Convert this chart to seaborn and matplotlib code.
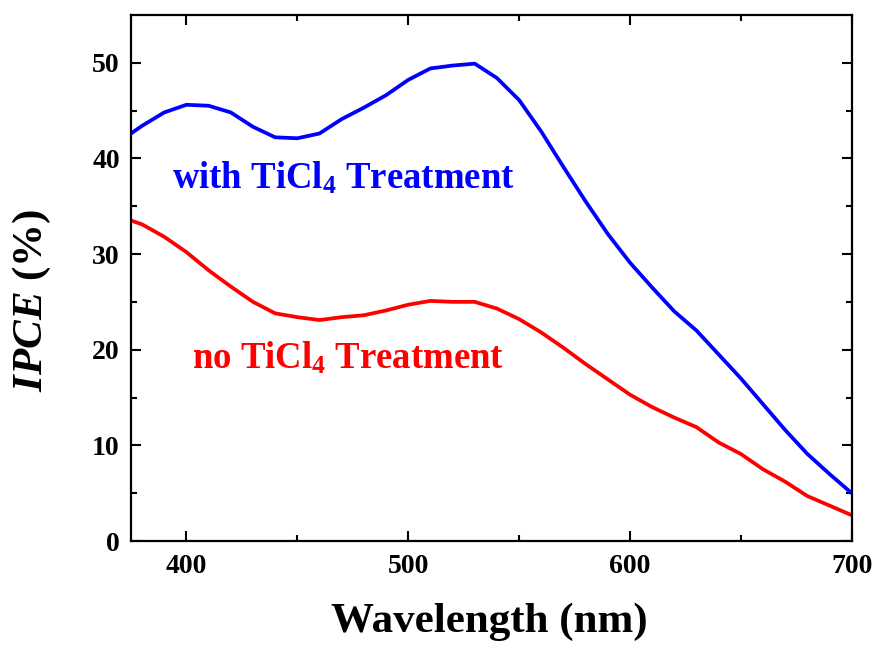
import numpy as np
import pandas as pd
import matplotlib
matplotlib.use("Agg")
import matplotlib.pyplot as plt
import seaborn as sns

# IPCE spectra (%), sampled every 10 nm
wavelength = [375, 380, 390, 400, 410, 420, 430, 440, 450, 460, 470, 480, 490,
              500, 510, 520, 530, 540, 550, 560, 570, 580, 590, 600, 610, 620,
              630, 640, 650, 660, 670, 680, 690, 700]
ipce_with = [42.6, 43.4, 44.8, 45.6, 45.5, 44.8, 43.3, 42.2, 42.1, 42.6, 44.1,
             45.3, 46.6, 48.2, 49.4, 49.7, 49.9, 48.4, 46.1, 42.8, 39.1, 35.5,
             32.1, 29.1, 26.5, 24.0, 22.0, 19.5, 17.0, 14.3, 11.6, 9.1, 7.0, 5.0]
ipce_without = [33.5, 33.1, 31.8, 30.2, 28.3, 26.6, 25.0, 23.8, 23.4, 23.1,
                23.4, 23.6, 24.1, 24.7, 25.1, 25.0, 25.0, 24.3, 23.2, 21.8,
                20.2, 18.5, 16.9, 15.3, 14.0, 12.9, 11.9, 10.3, 9.1, 7.5,
                6.2, 4.7, 3.7, 2.7]
series_names = ["with TiCl$_4$ Treatment", "no TiCl$_4$ Treatment"]
series_colors = ["#0000ff", "#ff0000"]

df = pd.DataFrame({
    "Wavelength": wavelength * 2,
    "IPCE": ipce_with + ipce_without,
    "Sample": [series_names[0]] * len(wavelength) + [series_names[1]] * len(wavelength),
})

sns.set_theme(style="ticks")
plt.rcParams["font.family"] = ["Liberation Serif", "DejaVu Serif"]
plt.rcParams["font.weight"] = "bold"
plt.rcParams["text.color"] = "black"
plt.rcParams["axes.labelcolor"] = "black"
plt.rcParams["xtick.color"] = "black"
plt.rcParams["ytick.color"] = "black"
plt.rcParams["mathtext.fontset"] = "custom"
plt.rcParams["mathtext.rm"] = "Liberation Serif:bold"
plt.rcParams["mathtext.it"] = "Liberation Serif:italic:bold"
plt.rcParams["mathtext.bf"] = "Liberation Serif:bold"
plt.rcParams["mathtext.default"] = "regular"

fig = plt.figure(figsize=(8.79, 6.46), dpi=100)
ax = fig.add_axes([0.149, 0.1625, 0.82, 0.8145])

sns.lineplot(data=df, x="Wavelength", y="IPCE", hue="Sample",
             palette=dict(zip(series_names, series_colors)),
             linewidth=2.7, legend=False, ax=ax, sort=False)

ax.set_xlim(375, 700)
ax.set_ylim(0, 55)
ax.set_xticks([400, 500, 600, 700])
ax.set_xticks([450, 550, 650], minor=True)
ax.set_yticks([0, 10, 20, 30, 40, 50])
ax.set_yticks([5, 15, 25, 35, 45], minor=True)

for side in ["top", "right", "bottom", "left"]:
    ax.spines[side].set_visible(True)
    ax.spines[side].set_linewidth(1.6)
    ax.spines[side].set_color("black")

ax.tick_params(which="both", direction="in", top=True, right=True,
               width=1.5, color="black")
ax.tick_params(which="major", length=7.5)
ax.tick_params(which="minor", length=4.5)
ax.tick_params(axis="y", which="major", labelsize=20, pad=8)
ax.tick_params(axis="x", which="major", labelsize=20, pad=9)
for lab in ax.get_xticklabels() + ax.get_yticklabels():
    lab.set_fontweight("bold")

ax.set_xlabel("Wavelength (nm)", fontsize=31, fontweight="bold")
ax.set_ylabel(r"$\mathit{IPCE}$ (%)", fontsize=31, fontweight="bold")
ax.xaxis.set_label_coords(0.4965, -0.116)
ax.yaxis.set_label_coords(-0.108, 0.458)

ax.text(393.5, 36.8, series_names[0], color=series_colors[0],
        fontsize=26.5, fontweight="bold", ha="left", va="baseline")
ax.text(402.5, 18.0, series_names[1], color=series_colors[1],
        fontsize=26.5, fontweight="bold", ha="left", va="baseline")

fig.savefig("out.png", dpi=100)
